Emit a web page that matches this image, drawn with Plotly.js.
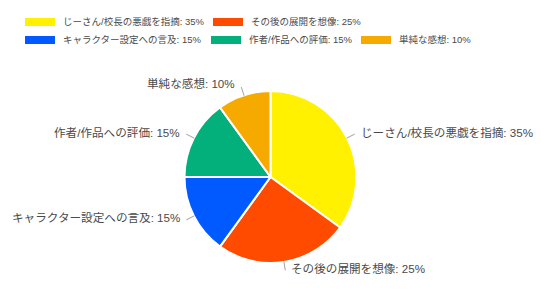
<!DOCTYPE html>
<html><head><meta charset="utf-8">
<script src="https://cdn.plot.ly/plotly-3.0.1.min.js"></script>
<style>html,body{margin:0;padding:0;background:#fff}#chart{width:541px;height:308px}</style>
</head><body><div id="chart"></div>
<script>
const categories = ["じーさん/校長の悪戯を指摘", "その後の展開を想像", "キャラクター設定への言及", "作者/作品への評価", "単純な感想"];
const shares = [35, 25, 15, 15, 10];
const colors = ["#FFF100", "#FF4B00", "#005AFF", "#03AF7A", "#F6AA00"];

const FONT = "'Liberation Sans', Arial, 'Noto Sans CJK JP', sans-serif";
const TEXT_COLOR = "#4a4a4a";
const W = 541, H = 308, MT = 91, MB = 45;
const PH = H - MT - MB;           // plot-area height
const R = PH / 2;                 // pie radius in px
const px2x = dx => 0.5 + dx / W;  // offset from pie centre -> paper
const px2y = dy => 0.5 - dy / PH;

const trace = {
  type: "pie",
  labels: categories,
  values: shares,
  sort: false,
  direction: "clockwise",
  rotation: 0,
  marker: {colors: colors, line: {color: "#ffffff", width: 2}},
  textinfo: "none",
  showlegend: false,
  hoverinfo: "label+percent"
};

const shapes = [], annotations = [];

// slice labels with short leader lines, placed from each slice's mid-angle
const total = shares.reduce((a, b) => a + b, 0);
let cum = 0;
shares.forEach((v, i) => {
  const mid = (cum + v / 2) / total * 2 * Math.PI;
  cum += v;
  const sx = Math.sin(mid), sy = -Math.cos(mid);
  const r0 = R - 0.5, r1 = R + 8.5;
  shapes.push({type: "line", xref: "paper", yref: "paper",
    x0: px2x(sx * r0), y0: px2y(sy * r0), x1: px2x(sx * r1), y1: px2y(sy * r1),
    line: {color: "#a0a0a0", width: 1}});
  const right = sx >= 0;
  const ex = sx * r1 + (right ? 4 : -4), ey = sy * r1 - (sy < -0.9 ? 4 : 2);
  annotations.push({xref: "paper", yref: "paper", x: px2x(ex), y: px2y(ey),
    xanchor: right ? "left" : "right", yanchor: "middle", showarrow: false,
    text: categories[i] + ": " + v + "%",
    font: {family: FONT, size: 11.6, color: TEXT_COLOR}});
});

// legend drawn manually (wide swatches, two rows)
const legendRows = [[0, 1], [2, 3, 4]];
const legendX = [[25, 213], [25, 211, 361]];
const legendY = [22, 40];
legendRows.forEach((row, r) => {
  row.forEach((idx, k) => {
    const x0 = legendX[r][k] / W, y = (H - MB - legendY[r]) / PH;
    shapes.push({type: "rect", xref: "paper", yref: "paper",
      x0: x0, x1: x0 + 30 / W, y0: y - 4 / PH, y1: y + 4 / PH,
      fillcolor: colors[idx], line: {width: 0}});
    annotations.push({xref: "paper", yref: "paper", x: x0 + 36 / W, y: y,
      xanchor: "left", yanchor: "middle", showarrow: false,
      text: categories[idx] + ": " + shares[idx] + "%",
      font: {family: FONT, size: 9.5, color: TEXT_COLOR}});
  });
});

const layout = {
  width: W, height: H,
  margin: {l: 0, r: 0, t: MT, b: MB},
  paper_bgcolor: "#ffffff",
  shapes: shapes,
  annotations: annotations
};
Plotly.newPlot("chart", [trace], layout, {displayModeBar: false, staticPlot: true});
</script></body></html>
